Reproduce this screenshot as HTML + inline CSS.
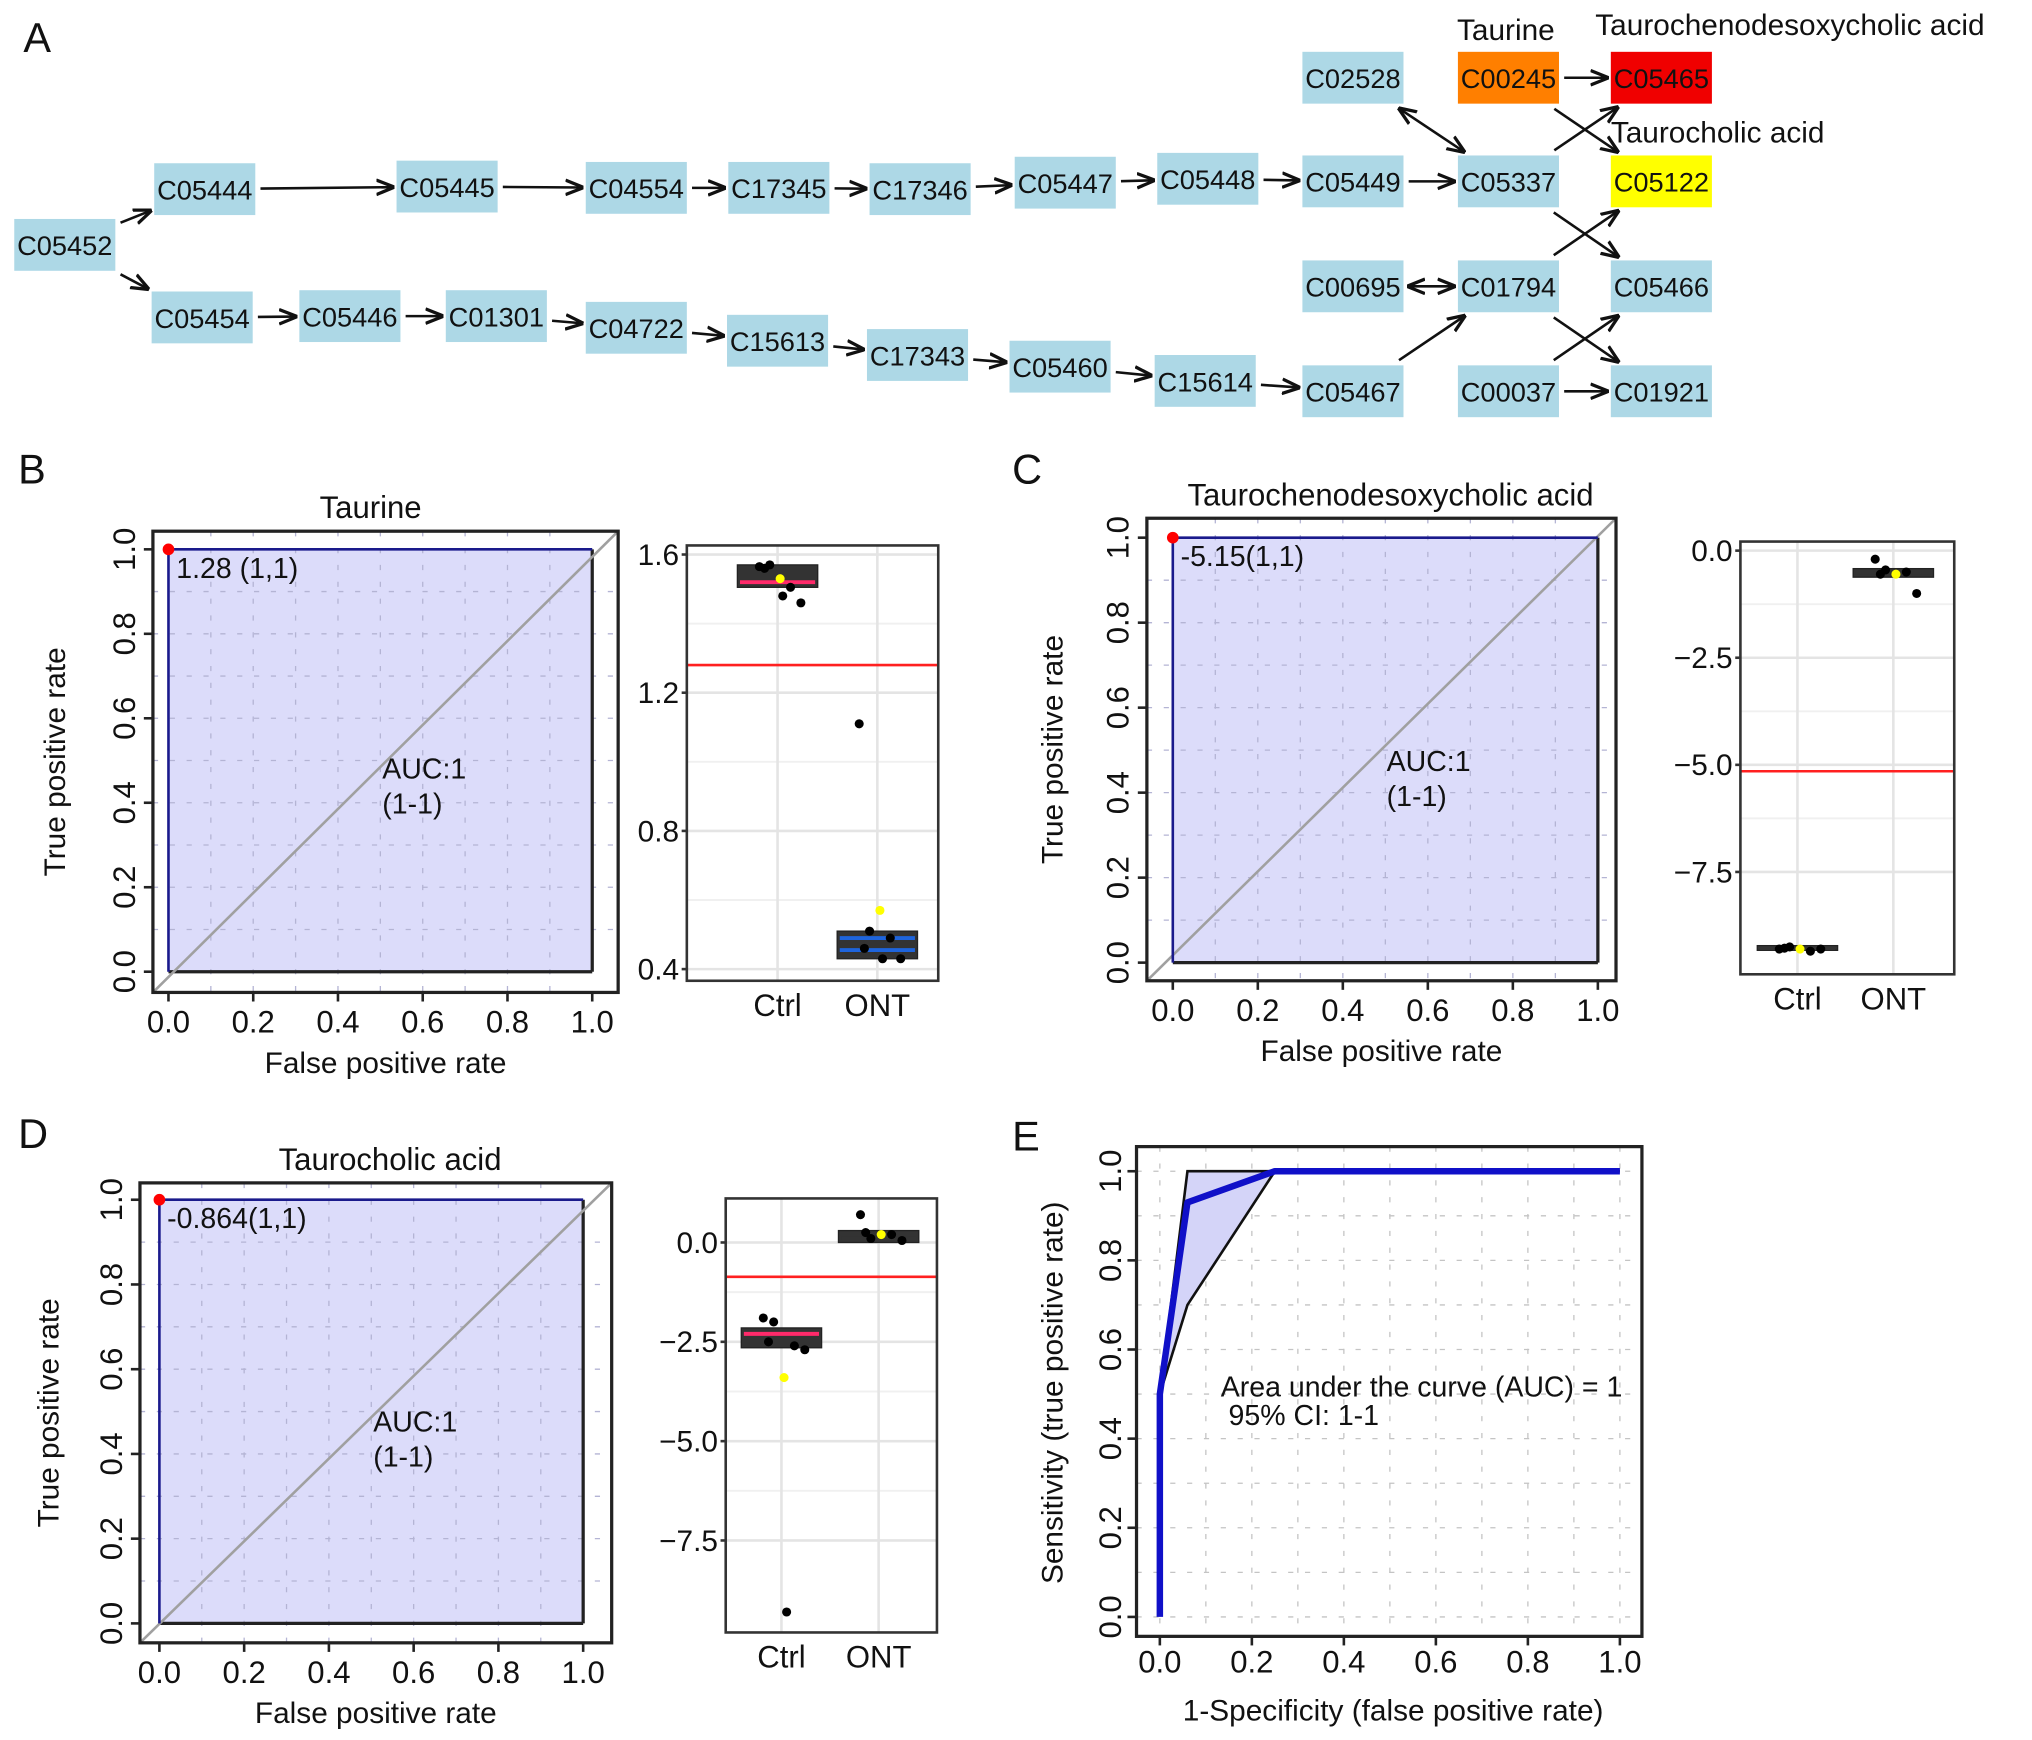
<!DOCTYPE html>
<html><head><meta charset="utf-8"><style>
html,body{margin:0;padding:0;background:#fff}
svg{display:block;font-family:"Liberation Sans",Arial,sans-serif}
</style></head><body>
<svg id="fig" width="2032" height="1740" viewBox="0 0 1568 1343" preserveAspectRatio="none" xmlns="http://www.w3.org/2000/svg">
<defs><marker id="ah" viewBox="0 0 10 10" refX="9" refY="5" markerWidth="7" markerHeight="7" orient="auto-start-reverse"><path d="M0,1 L10,5 L0,9" fill="none" stroke="#111" stroke-width="1.8"/></marker></defs>
</svg>
<script>
// ---------- data ----------
const nodeIds=["C05452","C05444","C05445","C04554","C17345","C17346","C05447","C05448","C05449","C05337","C02528","C00245","C05465","C05122","C05466","C01921","C00695","C01794","C00037","C05467","C05454","C05446","C01301","C04722","C15613","C17343","C05460","C15614"];
const nodeX=[50,158,345,491,601,710,822,932,1044,1164,1044,1164,1282,1282,1282,1282,1044,1164,1164,1044,156,270,383,491,600,708,818,930];
const nodeY=[189,146,144,145,145,146,141,138,140,140,60,60,60,140,221,302,221,221,302,302,245,244,244,253,263,274,283,294];
const nodeColor={"C00245":"#ff7f00","C05465":"#f00000","C05122":"#ffff00"};
const edges=[["C05452","C05444"],["C05452","C05454"],["C05444","C05445"],["C05445","C04554"],["C04554","C17345"],["C17345","C17346"],["C17346","C05447"],["C05447","C05448"],["C05448","C05449"],["C05449","C05337"],["C05454","C05446"],["C05446","C01301"],["C01301","C04722"],["C04722","C15613"],["C15613","C17343"],["C17343","C05460"],["C05460","C15614"],["C15614","C05467"],["C05467","C01794"],["C00245","C05465"],["C00245","C05122"],["C05337","C05465"],["C05337","C05466"],["C01794","C05122"],["C01794","C01921"],["C00037","C05466"],["C00037","C01921"]];
const biEdges=[["C02528","C05337"],["C00695","C01794"]];

const rocTicks=[0,0.2,0.4,0.6,0.8,1.0];
const rocTickLabels=["0.0","0.2","0.4","0.6","0.8","1.0"];
const rocPathB=[[0,0],[0,1],[1,1]];
const rocPathC=[[0,0],[0,1],[1,1]];
const rocPathD=[[0,0],[0,1],[1,1]];

const boxCats=["Ctrl","ONT"];
const bTicks=[0.4,0.8,1.2,1.6];
const bTickLabels=["0.4","0.8","1.2","1.6"];
const bCtrlBox=[1.505,1.52,1.57];
const bOntBox=[0.43,0.455,0.51];
const bOntLine2=[0.49];
const bCtrlPts=[1.565,1.57,1.505,1.46,1.56,1.48];
const bOntPts=[1.11,0.51,0.49,0.43,0.46,0.43];
const bMeans=[1.53,0.57];
const bThresh=[1.28];

const cTicks=[0,-2.5,-5,-7.5];
const cTickLabels=["0.0","\u22122.5","\u22125.0","\u22127.5"];
const cCtrlBox=[-9.33,-9.28,-9.22];
const cOntBox=[-0.62,-0.52,-0.42];
const cCtrlPts=[-9.3,-9.25,-9.35,-9.3,-9.28];
const cOntPts=[-0.2,-0.45,-0.5,-1.0,-0.55];
const cMeans=[-9.3,-0.55];
const cThresh=[-5.15];

const dTicks=[0,-2.5,-5,-7.5];
const dTickLabels=["0.0","\u22122.5","\u22125.0","\u22127.5"];
const dCtrlBox=[-2.65,-2.3,-2.15];
const dOntBox=[0.0,0.1,0.3];
const dCtrlPts=[-1.9,-2.0,-2.6,-2.7,-2.5,-9.3];
const dOntPts=[0.7,0.1,0.2,0.05,0.25];
const dMeans=[-3.4,0.2];
const dThresh=[-0.864];

const eCurveX=[0,0,0.06,0.25,1];
const eCurveY=[0,0.5,0.93,1,1];
const eUpX=[0,0.06,1];
const eUpY=[0.5,1,1];
const eLoX=[0,0.06,0.25,1];
const eLoY=[0.5,0.7,1,1];

// ---------- helpers ----------
const svg=document.getElementById('fig');
const NS="http://www.w3.org/2000/svg";
function mk(tag,attrs,name,parent){
  const el=document.createElementNS(NS,tag);
  for(const k in attrs) el.setAttribute(k,attrs[k]);
  
  
  (parent||svg).appendChild(el);
  return el;
}
function txt(s,x,y,size,name,extra,parent){
  const a=Object.assign({x:x,y:y,'font-size':size,fill:'#111'},extra||{});
  const t=mk('text',a,name,parent); t.textContent=s; return t;
}
function grp(name){return mk('g',{},name);}

// ---------- Panel A ----------
const gA=grp('panel-a');
txt('A',18,40,32,'panel-label-a',{},gA);
const W=39,H=20;
const pos={};
nodeIds.forEach((id,i)=>{pos[id]=[nodeX[i],nodeY[i]];});
function clip(cx,cy,dx,dy,pad){
  const tx=dx?((W+pad)/Math.abs(dx)):1e9, ty=dy?((H+pad)/Math.abs(dy)):1e9;
  const t=Math.min(tx,ty); return [cx+dx*t,cy+dy*t];
}
function edge(a,b,bi,name){
  const [x1,y1]=pos[a],[x2,y2]=pos[b];
  const dx=x2-x1,dy=y2-y1,L=Math.hypot(dx,dy),ux=dx/L,uy=dy/L;
  const s=clip(x1,y1,ux,uy,4), e=clip(x2,y2,-ux,-uy,3);
  const at={x1:s[0],y1:s[1],x2:e[0],y2:e[1],stroke:'#111','stroke-width':2,'marker-end':'url(#ah)'};
  if(bi) at['marker-start']='url(#ah)';
  mk('line',at,name,gA);
}
edges.forEach(e=>edge(e[0],e[1],false,'arrow-'+e[0].toLowerCase()+'-'+e[1].toLowerCase()));
biEdges.forEach(e=>edge(e[0],e[1],true,'arrow-'+e[0].toLowerCase()+'-'+e[1].toLowerCase()));
nodeIds.forEach((id,i)=>{
  const g=mk('g',{},'node-'+id.toLowerCase(),gA);
  mk('rect',{x:nodeX[i]-W,y:nodeY[i]-H,width:2*W,height:2*H,fill:nodeColor[id]||'#add8e6'},'node-box',g);
  txt(id,nodeX[i],nodeY[i]+8,21,'node-label',{'text-anchor':'middle'},g);
});
txt('Taurine',1162,31,23,'label-taurine',{'text-anchor':'middle'},gA);
txt('Taurochenodesoxycholic acid',1231,27,23,'label-taurochenodesoxycholic',{},gA);
txt('Taurocholic acid',1243,110,23,'label-taurocholic',{},gA);

// ---------- ROC ----------
function roc(o){
  const g=grp(o.name);
  const sx=v=>o.x0+(o.x1-o.x0)*v, sy=v=>o.y0+(o.y1-o.y0)*v;
  txt(o.letter,o.lx,o.ly,32,'panel-label',{},g);
  if(o.title) txt(o.title,o.tcx,o.tcy,24,'chart-title',{'text-anchor':'middle'},g);
  const pts=o.path.map(p=>sx(p[0])+','+sy(p[1]));
  mk('polygon',{points:pts.join(' ')+' '+sx(1)+','+sy(0),fill:'#d8d8fa','fill-opacity':0.9},'auc-area',g);
  for(let k=1;k<10;k++){
    mk('line',{x1:sx(k/10),x2:sx(k/10),y1:o.fy0,y2:o.fy1,stroke:'#b4b4d4','stroke-width':1,'stroke-dasharray':'4,9'},'grid-v',g);
    mk('line',{x1:o.fx0,x2:o.fx1,y1:sy(k/10),y2:sy(k/10),stroke:'#b4b4d4','stroke-width':1,'stroke-dasharray':'4,9'},'grid-h',g);
  }
  mk('line',{x1:sx(1),y1:sy(1),x2:sx(1),y2:sy(0),stroke:'#222','stroke-width':2.5},'area-edge',g);
  mk('line',{x1:sx(0),y1:sy(0),x2:sx(1),y2:sy(0),stroke:'#222','stroke-width':2.5},'area-edge',g);
  mk('line',{x1:o.fx0,y1:o.fy1,x2:o.fx1,y2:o.fy0,stroke:'#a0a0a0','stroke-width':2},'diagonal-reference',g);
  mk('polyline',{points:pts.join(' '),fill:'none',stroke:'#1a1a8c','stroke-width':2},'roc-curve',g);
  mk('circle',{cx:sx(0),cy:sy(1),r:4.5,fill:'#f00'},'best-threshold-point',g);
  txt(o.thr,sx(0)+6,sy(1)+22,22,'threshold-label',{},g);
  txt('AUC:1',o.ax,o.ay,22,'auc-label',{},g);
  txt('(1-1)',o.ax,o.ay+27,22,'auc-ci-label',{},g);
  mk('rect',{x:o.fx0,y:o.fy0,width:o.fx1-o.fx0,height:o.fy1-o.fy0,fill:'none',stroke:'#222','stroke-width':2.5},'plot-frame',g);
  rocTicks.forEach((t,i)=>{
    mk('line',{x1:sx(t),x2:sx(t),y1:o.fy1,y2:o.fy1+7,stroke:'#222','stroke-width':2},'x-tick',g);
    txt(rocTickLabels[i],sx(t),o.fy1+31,24,'x-tick-label',{'text-anchor':'middle'},g);
    mk('line',{x1:o.fx0,x2:o.fx0-7,y1:sy(t),y2:sy(t),stroke:'#222','stroke-width':2},'y-tick',g);
    txt(rocTickLabels[i],o.fx0-14,sy(t),24,'y-tick-label',{'text-anchor':'middle',transform:'rotate(-90 '+(o.fx0-14)+' '+sy(t)+')'},g);
  });
  txt(o.xt,(o.fx0+o.fx1)/2,o.fy1+62,23,'x-axis-title',{'text-anchor':'middle'},g);
  const yc=(o.fy0+o.fy1)/2;
  txt(o.yt,o.ytx,yc,23,'y-axis-title',{'text-anchor':'middle',transform:'rotate(-90 '+o.ytx+' '+yc+')'},g);
}
roc({name:'panel-b-roc',letter:'B',lx:14,ly:373,title:'Taurine',tcx:286,tcy:400,x0:130,x1:457,y0:750,y1:424,fx0:118,fx1:477,fy0:410,fy1:766,path:rocPathB,thr:'1.28 (1,1)',ax:295,ay:601,xt:'False positive rate',yt:'True positive rate',ytx:50});
roc({name:'panel-c-roc',letter:'C',lx:781,ly:373,title:'Taurochenodesoxycholic acid',tcx:1073,tcy:390,x0:905,x1:1233,y0:743,y1:415,fx0:885,fx1:1247,fy0:400,fy1:757,path:rocPathC,thr:'-5.15(1,1)',ax:1070,ay:595,xt:'False positive rate',yt:'True positive rate',ytx:820});
roc({name:'panel-d-roc',letter:'D',lx:14,ly:886,title:'Taurocholic acid',tcx:301,tcy:903,x0:123,x1:450,y0:1253,y1:926,fx0:108,fx1:472,fy0:913,fy1:1268,path:rocPathD,thr:'-0.864(1,1)',ax:288,ay:1105,xt:'False positive rate',yt:'True positive rate',ytx:45});

// ---------- Box plots ----------
function box(o){
  const g=grp(o.name);
  const sy=v=>o.ya+(v-o.va)*(o.yb-o.ya)/(o.vb-o.va);
  const cx=[o.cx0,o.cx1];
  mk('rect',{x:o.fx0,y:o.fy0,width:o.fx1-o.fx0,height:o.fy1-o.fy0,fill:'#fff'},'plot-bg',g);
  for(let i=0;i<o.ticks.length;i++){
    mk('line',{x1:o.fx0,x2:o.fx1,y1:sy(o.ticks[i]),y2:sy(o.ticks[i]),stroke:'#e4e4e4','stroke-width':2},'grid-major',g);
    if(i<o.ticks.length-1){const m=(o.ticks[i]+o.ticks[i+1])/2;
      mk('line',{x1:o.fx0,x2:o.fx1,y1:sy(m),y2:sy(m),stroke:'#f0f0f0','stroke-width':1.5},'grid-minor',g);}
  }
  cx.forEach(c=>mk('line',{x1:c,x2:c,y1:o.fy0,y2:o.fy1,stroke:'#e4e4e4','stroke-width':2},'grid-cat',g));
  mk('line',{x1:o.fx0,x2:o.fx1,y1:sy(o.thresh[0]),y2:sy(o.thresh[0]),stroke:'#ff2020','stroke-width':2},'threshold-line',g);
  [[o.ctrlBox,o.c0],[o.ontBox,o.c1]].forEach((b,i)=>{
    const bx=b[0];
    mk('rect',{x:cx[i]-31,y:sy(bx[2]),width:62,height:Math.max(3,sy(bx[0])-sy(bx[2])),fill:'#333',stroke:'#222','stroke-width':1},'box-'+boxCats[i].toLowerCase(),g);
    mk('line',{x1:cx[i]-29,x2:cx[i]+29,y1:sy(bx[1]),y2:sy(bx[1]),stroke:b[1],'stroke-width':3},'median-'+boxCats[i].toLowerCase(),g);
  });
  if(o.ont2) mk('line',{x1:cx[1]-29,x2:cx[1]+29,y1:sy(o.ont2[0]),y2:sy(o.ont2[0]),stroke:o.c1,'stroke-width':3},'box-line-ont',g);
  const jit=[-14,-6,10,18,-10,4];
  [o.ctrlPts,o.ontPts].forEach((ps,i)=>ps.forEach((v,j)=>mk('circle',{cx:cx[i]+jit[j%6],cy:sy(v),r:3.5,fill:'#000'},'point-'+boxCats[i].toLowerCase(),g)));
  o.means.forEach((v,i)=>mk('circle',{cx:cx[i]+2,cy:sy(v),r:3.5,fill:'#ffff00'},'mean-'+boxCats[i].toLowerCase(),g));
  mk('rect',{x:o.fx0,y:o.fy0,width:o.fx1-o.fx0,height:o.fy1-o.fy0,fill:'none',stroke:'#333','stroke-width':2},'plot-frame',g);
  o.ticks.forEach((t,i)=>{
    mk('line',{x1:o.fx0,x2:o.fx0-4,y1:sy(t),y2:sy(t),stroke:'#333','stroke-width':2},'y-tick',g);
    txt(o.labels[i],o.fx0-6,sy(t)+8,23,'y-tick-label',{'text-anchor':'end'},g);
  });
  boxCats.forEach((c,i)=>txt(c,cx[i],o.fy1+27,24,'x-tick-label',{'text-anchor':'middle'},g));
}
box({name:'panel-b-box',fx0:530,fx1:724,fy0:421,fy1:757,ya:428,va:1.6,yb:748,vb:0.4,ticks:bTicks,labels:bTickLabels,cx0:600,cx1:677,ctrlBox:bCtrlBox,ontBox:bOntBox,ont2:bOntLine2,ctrlPts:bCtrlPts,ontPts:bOntPts,means:bMeans,thresh:bThresh,c0:'#ff2a6a',c1:'#1e64dc'});
box({name:'panel-c-box',fx0:1343,fx1:1508,fy0:418,fy1:752,ya:425,va:0,yb:673,vb:-7.5,ticks:cTicks,labels:cTickLabels,cx0:1387,cx1:1461,ctrlBox:cCtrlBox,ontBox:cOntBox,ctrlPts:cCtrlPts,ontPts:cOntPts,means:cMeans,thresh:cThresh,c0:'#333',c1:'#333'});
box({name:'panel-d-box',fx0:560,fx1:723,fy0:925,fy1:1260,ya:959,va:0,yb:1189,vb:-7.5,ticks:dTicks,labels:dTickLabels,cx0:603,cx1:678,ctrlBox:dCtrlBox,ontBox:dOntBox,ctrlPts:dCtrlPts,ontPts:dOntPts,means:dMeans,thresh:dThresh,c0:'#ff2a6a',c1:'#333'});

// ---------- Panel E ----------
(function(){
  const g=grp('panel-e-roc');
  const x0=895,x1=1250,y0=1248,y1=904,fx0=877,fx1=1267,fy0=885,fy1=1263;
  const sx=v=>x0+(x1-x0)*v, sy=v=>y0+(y1-y0)*v;
  txt('E',781,888,32,'panel-label',{},g);
  for(let k=0;k<=10;k++){
    mk('line',{x1:sx(k/10),x2:sx(k/10),y1:fy0,y2:fy1,stroke:'#c4c4c4','stroke-width':1,'stroke-dasharray':'4,9'},'grid-v',g);
    mk('line',{x1:fx0,x2:fx1,y1:sy(k/10),y2:sy(k/10),stroke:'#c4c4c4','stroke-width':1,'stroke-dasharray':'4,9'},'grid-h',g);
  }
  const up=eUpX.map((v,i)=>sx(v)+','+sy(eUpY[i]));
  const lo=eLoX.map((v,i)=>sx(v)+','+sy(eLoY[i]));
  mk('polygon',{points:up.concat(lo.slice().reverse()).join(' '),fill:'#d4d4f8',stroke:'#111','stroke-width':2},'ci-band',g);
  mk('polyline',{points:eCurveX.map((v,i)=>sx(v)+','+sy(eCurveY[i])).join(' '),fill:'none',stroke:'#1010c8','stroke-width':5,'stroke-linejoin':'round'},'roc-curve',g);
  mk('rect',{x:fx0,y:fy0,width:fx1-fx0,height:fy1-fy0,fill:'none',stroke:'#222','stroke-width':2.5},'plot-frame',g);
  rocTicks.forEach((t,i)=>{
    mk('line',{x1:sx(t),x2:sx(t),y1:fy1,y2:fy1+7,stroke:'#222','stroke-width':2},'x-tick',g);
    txt(rocTickLabels[i],sx(t),fy1+28,24,'x-tick-label',{'text-anchor':'middle'},g);
    mk('line',{x1:fx0,x2:fx0-7,y1:sy(t),y2:sy(t),stroke:'#222','stroke-width':2},'y-tick',g);
    txt(rocTickLabels[i],fx0-12,sy(t),24,'y-tick-label',{'text-anchor':'middle',transform:'rotate(-90 '+(fx0-12)+' '+sy(t)+')'},g);
  });
  txt('Area under the curve (AUC) = 1',942,1078,22,'auc-text',{},g);
  txt('95% CI: 1-1',948,1100,22,'ci-text',{},g);
  txt('1-Specificity (false positive rate)',1075,1328,23,'x-axis-title',{'text-anchor':'middle'},g);
  txt('Sensitivity (true positive rate)',820,1075,23,'y-axis-title',{'text-anchor':'middle',transform:'rotate(-90 820 1075)'},g);
})();
</script>
</body></html>
